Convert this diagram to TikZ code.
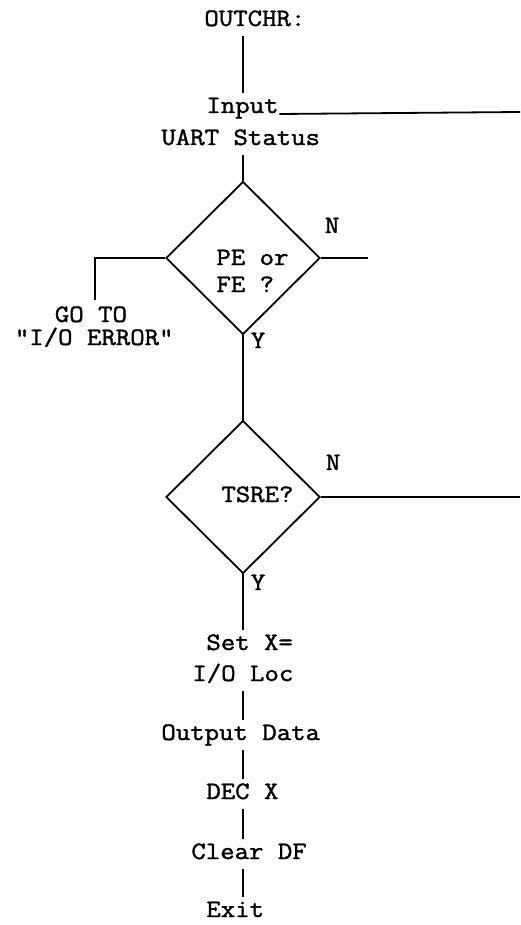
\documentclass[tikz,border=0pt]{standalone}
\usepackage{fontspec}
\setmonofont{Latin Modern Mono}[FakeStretch=1.12, FakeBold=1.5]
\usetikzlibrary{shapes.geometric}
\tikzset{
  txt/.style={font=\ttfamily\fontsize{25}{29}\selectfont, inner xsep=0pt, inner ysep=5pt,
    text height=14pt, text depth=4pt, anchor=base west},
  dia/.style={draw, diamond, minimum width=154pt, minimum height=153pt, inner sep=0pt},
  conn/.style={line width=1.8pt},
}
\begin{document}
\begin{tikzpicture}[x=1pt,y=-1pt, line width=1.8pt]
\useasboundingbox (0,0) rectangle (520,925);
\coordinate (ax) at (243,0);
% text nodes
\node[txt] (outchr) at (203.5,26) {OUTCHR:};
\node[txt] (input) at (205.5,113) {Input};
\node[txt] (uart) at (160.5,145) {UART Status};
\node[txt] (setx) at (205.5,650) {Set X=};
\node[txt] (ioloc) at (191.5,681) {I/O Loc};
\node[txt] (outd) at (160.5,740) {Output Data};
\node[txt] (decx) at (205.5,799) {DEC X};
\node[txt] (clrdf) at (190.5,859) {Clear DF};
\node[txt] (exit) at (205.5,917) {Exit};
% decisions
\node[dia] (d1) at (243,258) {};
\node[dia] (d2) at (243,497) {};
\node[txt] (pe) at (215.5,265) {PE or};
\node[txt] (fe) at (215.5,292) {FE ?};
\node[txt] (tsre) at (220.5,502) {TSRE?};
\node[txt] (n1) at (324,233) {N};
\node[txt] (y1) at (250,348) {Y};
\node[txt] (n2) at (325,470) {N};
\node[txt] (y2) at (250,590) {Y};
\node[txt] (goto) at (54,322) {GO TO};
\node[txt] (ioerr) at (14,345) {"I/O ERROR"};
% free ends
\coordinate (inend) at (520,112);
\coordinate (n1end) at (368,258);
\coordinate (errcorner) at (95,258);
\coordinate (errend) at (95,300);
\coordinate (n2end) at (520,497);
% connectors
\draw[conn] (outchr.south -| ax) -- (input.north -| ax);
\draw[conn] ([yshift=-1pt]input.base east) -- (inend);
\draw[conn] (uart.south -| ax) -- (d1.north);
\draw[conn] (d1.east) -- (n1end);
\draw[conn] (d1.west) -- (errcorner) -- (errend);
\draw[conn] (d1.south) -- (d2.north);
\draw[conn] (d2.east) -- (n2end);
\draw[conn] (d2.south) -- (setx.north -| ax);
\draw[conn] (ioloc.south -| ax) -- (outd.north -| ax);
\draw[conn] (outd.south -| ax) -- (decx.north -| ax);
\draw[conn] (decx.south -| ax) -- (clrdf.north -| ax);
\draw[conn] (clrdf.south -| ax) -- (exit.north -| ax);
\end{tikzpicture}
\end{document}
